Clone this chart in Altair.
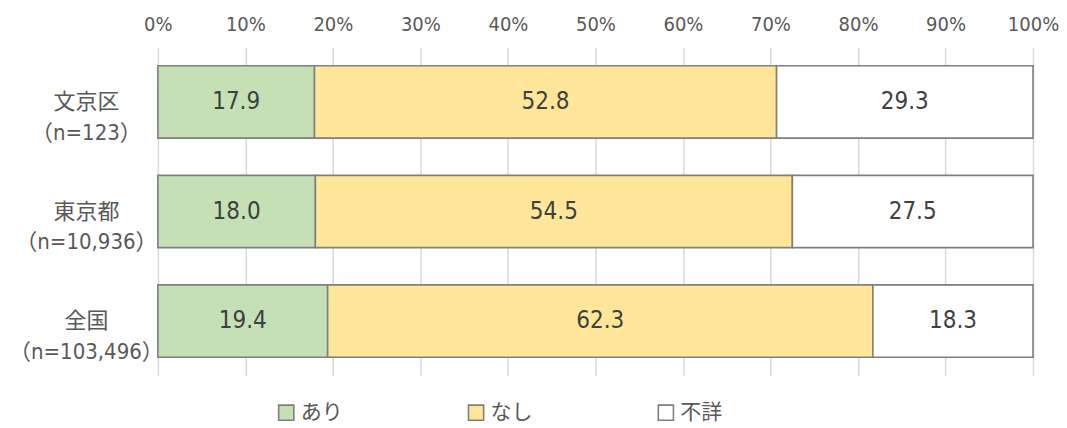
import altair as alt
import pandas as pd

regions = ["文京区\n（n=123）", "東京都\n（n=10,936）", "全国\n（n=103,496）"]
categories = ["あり", "なし", "不詳"]
ari = [17.9, 18.0, 19.4]
nashi = [52.8, 54.5, 62.3]
fusho = [29.3, 27.5, 18.3]
colors = ["#C5E0B4", "#FFE699", "#FFFFFF"]

rows = []
for i, r in enumerate(regions):
    for j, (c, v) in enumerate(zip(categories, [ari[i], nashi[i], fusho[i]])):
        rows.append({"region": r, "cat": c, "ord": j, "value": v})
df = pd.DataFrame(rows)

FONT = "DejaVu Sans Condensed, Noto Sans CJK JP, sans-serif"
TXT = "#595959"

base = alt.Chart(df).transform_stack(
    stack="value", groupby=["region"], as_=["x0", "x1"], sort=[{"field": "ord", "order": "ascending"}]
).transform_calculate(mid="(datum.x0 + datum.x1) / 2")

yenc = alt.Y(
    "region:N",
    sort=regions,
    title=None,
    scale=alt.Scale(paddingInner=0.34, paddingOuter=0.17),
    axis=alt.Axis(
        labelExpr="split(datum.label, '\\n')",
        labelAlign="center",
        labelBaseline="middle",
        labelPadding=72,
        labelLineHeight=31,
        labelFontSize=22,
        labelColor=TXT,
        labelFont=FONT,
        ticks=False,
        domain=False,
        grid=False,
        minExtent=150,
        maxExtent=150,
    ),
)

bars = base.mark_bar(stroke="#7f7f7f", strokeWidth=1.6).encode(
    x=alt.X(
        "x0:Q",
        scale=alt.Scale(domain=[0, 100], nice=False),
        title=None,
        axis=alt.Axis(
            orient="top",
            values=list(range(0, 101, 10)),
            labelExpr="datum.value + '%'",
            labelFontSize=20,
            labelColor=TXT,
            labelFont=FONT,
            labelFlush=False,
            labelOverlap=False,
            ticks=False,
            tickSize=0,
            domain=False,
            labelPadding=13,
            grid=True,
            gridColor="#d9d9d9",
            gridWidth=1.5,
            minExtent=39,
            maxExtent=39,
        ),
    ),
    x2="x1:Q",
    y=yenc,
    color=alt.Color(
        "cat:N",
        scale=alt.Scale(domain=categories, range=colors),
        title=None,
        legend=alt.Legend(
            orient="none",
            direction="horizontal",
            legendX=118,
            legendY=355,
            symbolType="square",
            symbolSize=230,
            symbolStrokeColor="#7f7f7f",
            symbolStrokeWidth=1.6,
            labelFontSize=21,
            labelColor=TXT,
            labelFont=FONT,
            labelOffset=4,
            columnPadding=122,
        ),
    ),
    order=alt.Order("ord:Q"),
)

labels = base.mark_text(fontSize=24, color="#404040", font=FONT).encode(
    x="mid:Q",
    y=alt.Y("region:N", sort=regions),
    text=alt.Text("value:Q", format=".1f"),
)

chart = alt.layer(bars, labels).properties(
    width=876, height=329, padding={"left": 0, "top": 0, "right": 0, "bottom": 5}
).configure_view(stroke=None)

chart.save("out.html", embed_options={"renderer": "svg", "actions": False})
